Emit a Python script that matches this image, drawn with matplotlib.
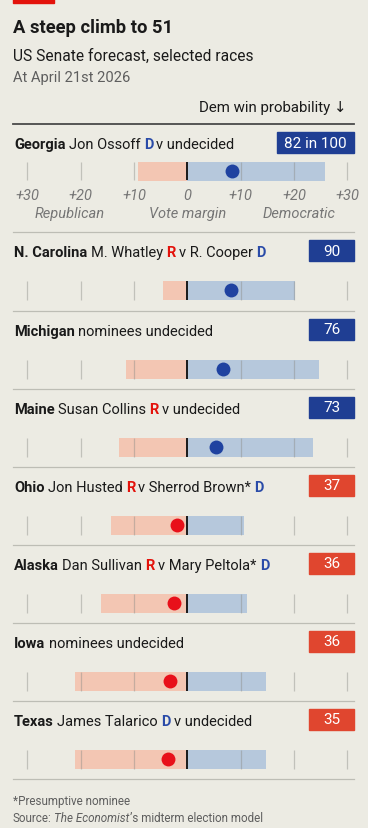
import matplotlib
matplotlib.use("Agg")
import matplotlib.pyplot as plt
from matplotlib.patches import Rectangle

# US Senate forecast, selected races - vote margin ranges and Dem win probability

states = ["Georgia", "N. Carolina", "Michigan", "Maine", "Ohio", "Alaska", "Iowa", "Texas"]
# {R} / {D} mark the coloured party letters
matchups = ["Jon Ossoff {D} v undecided",
            "M. Whatley {R} v R. Cooper {D}",
            "nominees undecided",
            "Susan Collins {R} v undecided",
            "Jon Husted {R} v Sherrod Brown* {D}",
            "Dan Sullivan {R} v Mary Peltola* {D}",
            "nominees undecided",
            "James Talarico {D} v undecided"]
dem_prob = [82, 90, 76, 73, 37, 36, 36, 35]
margin_low = [-9.2, -4.5, -11.5, -12.8, -14.3, -16.2, -21.0, -21.0]
margin_high = [25.8, 20.2, 24.6, 23.5, 10.7, 11.1, 14.7, 14.7]
margin_mid = [8.4, 8.2, 6.6, 5.4, -2.0, -2.5, -3.2, -3.6]

tick_vals = [-30, -20, -10, 0, 10, 20, 30]
tick_labels = ["+30", "+20", "+10", "0", "+10", "+20", "+30"]
side_labels = ["Republican", "Vote margin", "Democratic"]

# colours
BG = "#ECEBE3"
INK = "#1A1A1A"
GREY = "#5E5E5E"
PINK = "#F3C6B3"
LBLUE = "#B6C8DC"
DBLUE = "#1F3E93"
BOXRED = "#E0462F"
DOTBLUE = "#1F42A0"
DOTRED = "#E8101A"
PARTY = {"R": "#E3120B", "D": "#2A4BA8"}

plt.rcParams["font.family"] = ["Roboto", "DejaVu Sans"]

W, H = 368, 829
fig = plt.figure(figsize=(W / 100, H / 100), dpi=100, facecolor=BG)
renderer = fig.canvas.get_renderer()


def fx(px):
    return px / W


def fy(px):
    return 1 - px / H


def rich_text(x_px, y_px, parts, size, gap=0.31):
    # parts: list of (text, colour, weight, style), placed one after another
    x = x_px
    for s, col, wt, sty in parts:
        t = fig.text(fx(x), fy(y_px), s, color=col, fontweight=wt, style=sty,
                     fontsize=size, va="baseline", ha="left")
        bb = t.get_window_extent(renderer)
        x = bb.x1 + size * gap


def parse_matchup(s):
    parts = []
    for word in s.split(" "):
        if word in ("{R}", "{D}"):
            k = word[1]
            parts.append([k, PARTY[k], "bold", "normal"])
        elif parts and parts[-1][2] == "normal":
            parts[-1][0] += " " + word
        else:
            parts.append([word, INK, "normal", "normal"])
    return [tuple(p) for p in parts]


# header
fig.patches.append(Rectangle((fx(13), fy(3.5)), fx(41), 3.5 / H,
                             transform=fig.transFigure, color="#E3120B"))
fig.text(fx(13), fy(33), "A steep climb to 51", fontsize=13.2,
         fontweight="bold", color=INK, va="baseline")
fig.text(fx(13), fy(61), "US Senate forecast, selected races",
         fontsize=11.2, color=INK, va="baseline")
fig.text(fx(13), fy(82), "At April 21st 2026", fontsize=10.6,
         color=GREY, va="baseline")
fig.text(fx(347), fy(112), "Dem win probability \u2193", fontsize=10.8,
         color=INK, va="baseline", ha="right")
fig.add_artist(plt.Line2D([fx(13), fx(354)], [fy(125), fy(125)],
                          color="#4A4A4A", lw=1.3))

# rows
ax_left, ax_right = 27.3, 347.3
bar_h = 19
tops = [125, 233, 312, 390, 468, 546, 624, 702, 780]

for i, st in enumerate(states):
    top = tops[i]
    title_base = top + 24
    bar_c = top + (47 if i == 0 else 58)

    rich_text(14, title_base, [(st, INK, "bold", "normal")] + parse_matchup(matchups[i]), 10.5)

    # probability box
    label = f"{dem_prob[i]} in 100" if i == 0 else str(dem_prob[i])
    bx0 = 277 if i == 0 else 309
    bcol = DBLUE if dem_prob[i] > 50 else BOXRED
    fig.patches.append(Rectangle((fx(bx0), fy(top + 29)), fx(354 - bx0), 21 / H,
                                 transform=fig.transFigure, color=bcol))
    fig.text(fx((bx0 + 354) / 2), fy(top + 18.5), label, color="white",
             fontsize=11, ha="center", va="center")

    # bar band axes
    ax = fig.add_axes([fx(ax_left), fy(bar_c + bar_h / 2),
                       (ax_right - ax_left) / W, bar_h / H])
    ax.set_xlim(-30, 30)
    ax.set_ylim(-0.5, 0.5)
    ax.axis("off")

    lo, hi, mid = margin_low[i], margin_high[i], margin_mid[i]
    if lo < 0:
        ax.barh(0, min(hi, 0) - lo, left=lo, height=1, color=PINK, zorder=1)
    if hi > 0:
        ax.barh(0, hi - max(lo, 0), left=max(lo, 0), height=1, color=LBLUE, zorder=1)
    for v in tick_vals:
        if v != 0:
            ax.vlines(v, -0.5, 0.5, color="#8E8E88", alpha=0.45, lw=0.9,
                      zorder=2, clip_on=False)
    ax.vlines(0, -0.5, 0.5, color=INK, lw=1.4, zorder=3, clip_on=False)
    ax.scatter([mid], [0], s=100, color=DOTBLUE if mid > 0 else DOTRED,
               zorder=4, clip_on=False, linewidths=0)

    if i == 0:
        for v, t in zip(tick_vals, tick_labels):
            ax.text(v, -1.25, t, ha="center", va="center", fontsize=10.5,
                    style="italic", color="#767676")
        for v, t in zip([-22, 0, 21], side_labels):
            ax.text(v, -2.2, t, ha="center", va="center", fontsize=10.5,
                    style="italic", color="#767676")

    # separator
    fig.add_artist(plt.Line2D([fx(13), fx(354)], [fy(tops[i + 1]), fy(tops[i + 1])],
                              color="#BDBDB5", lw=0.9))

# footer
fig.text(fx(13), fy(805), "*Presumptive nominee", fontsize=8.4, color=GREY,
         va="baseline")
rich_text(13, 822, [("Source:", GREY, "normal", "normal"),
                    ("The Economist", GREY, "normal", "italic")], 8.4, gap=0.3)
src_end = [t for t in fig.texts if t.get_text() == "The Economist"][0]
x_end = src_end.get_window_extent(renderer).x1
fig.text(fx(x_end), fy(822), "\u2019s midterm election model", fontsize=8.4,
         color=GREY, va="baseline")

fig.savefig("out.png", dpi=100, facecolor=BG)
